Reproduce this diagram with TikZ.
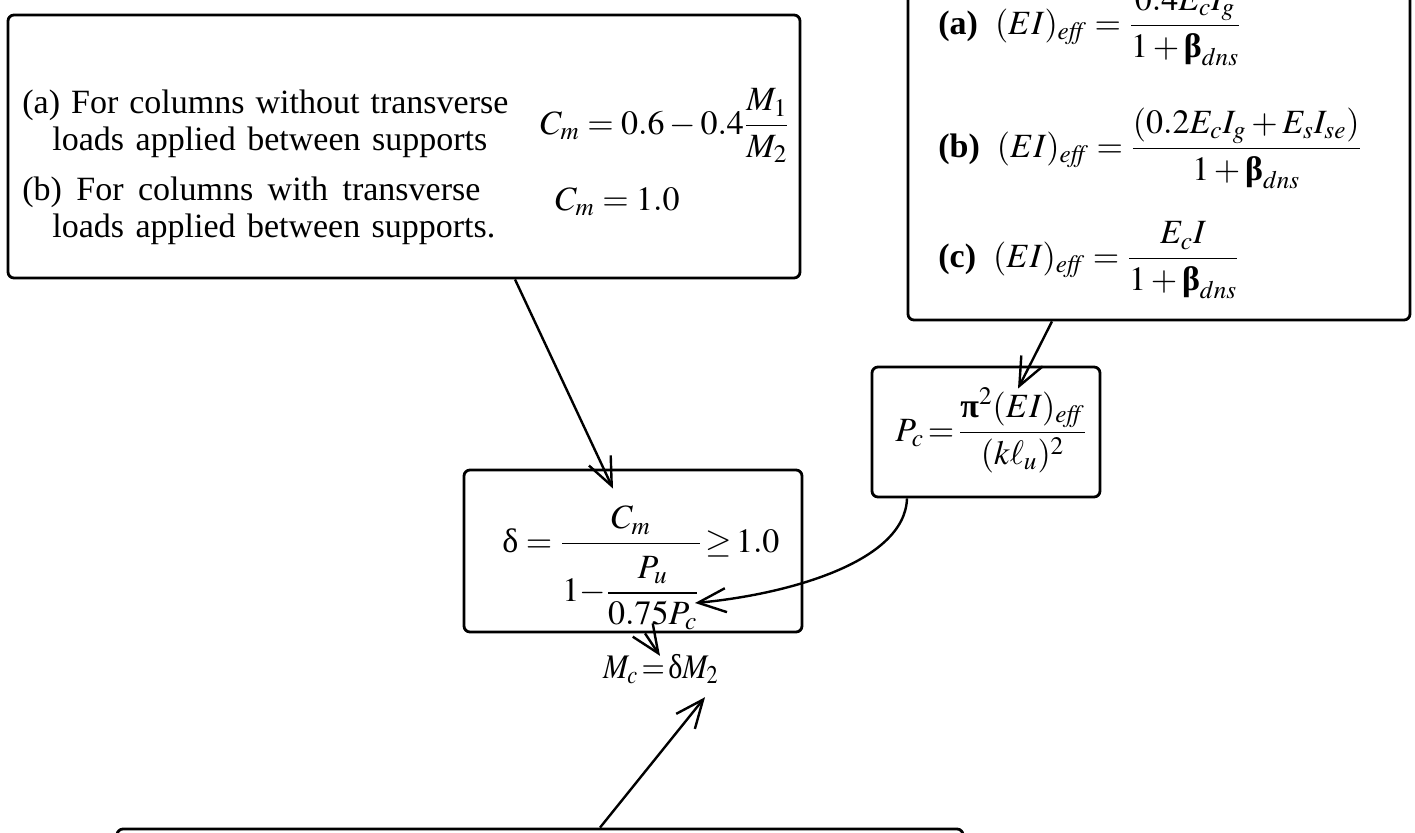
\documentclass[tikz,border=0pt]{standalone}
\usepackage{mathptmx}
\usepackage{amsmath}
\usepackage{fontspec}
\setmainfont{Liberation Serif}
\usetikzlibrary{arrows.meta,calc}
\newcommand{\gbeta}{\text{\bfseries β}}
\newcommand{\gdelta}{\text{δ}}
\newcommand{\gpi}{\text{\bfseries π}}
\begin{document}
\begin{tikzpicture}[x=0.5pt,y=-0.5pt]
\tikzset{
  box/.style={draw, line width=1.4pt, rounded corners=3pt, inner sep=0pt},
  arr/.style={line width=1.2pt, -{Straight Barb[length=14pt,width=12pt,line width=1.2pt]}},
  txt/.style={font=\fontsize{17}{20}\selectfont, inner sep=0pt},
}
\useasboundingbox (0,0) rectangle (1415,832);
\clip (0,0) rectangle (1415,832);
\fill[white] (0,0) rectangle (1415,832);
% boxes
\node[box, minimum width=396pt, minimum height=131.5pt] (b1) at (404,146.5) {};
\node[box, minimum width=251pt, minimum height=190pt] (b2) at (1159,130) {};
\node[box, minimum width=114pt, minimum height=65pt] (b3) at (986,432) {};
\node[box, minimum width=169pt, minimum height=81pt] (b4) at (633,551) {};
\node[box, minimum width=423pt, minimum height=85.5pt] (b5) at (540,914.5) {};
% box 1 text
\node[txt, anchor=base west] (a1) at (22,113) {\makebox[243pt][s]{(a) For columns without transverse}};
\node[txt, anchor=base west] (a2) at (52,150) {\makebox[217.5pt][s]{loads applied between supports}};
\node[txt, anchor=base west] (a3) at (22,200) {\makebox[229pt][s]{(b) For columns with transverse}};
\node[txt, anchor=base west] (a4) at (52,237) {\makebox[221.5pt][s]{loads applied between supports.}};
\node[txt, anchor=base west] (f1) at (540,134) {$C_m = 0.6-0.4\dfrac{M_1}{M_2}$};
\node[txt, anchor=base west] (f2) at (555,210) {$C_m = 1.0$};
% box 2 text
\node[txt, anchor=base west] (e1) at (938,34) {\textbf{(a)}\enspace$(EI)_{\mathit{eff}} = \dfrac{0.4E_cI_g}{1+\gbeta_{dns}}$};
\node[txt, anchor=base west] (e2) at (938,157) {\textbf{(b)}\enspace$(EI)_{\mathit{eff}} = \dfrac{(0.2E_cI_g+E_sI_{se})}{1+\gbeta_{dns}}$};
\node[txt, anchor=base west] (e3) at (938,267) {\textbf{(c)}\enspace$(EI)_{\mathit{eff}} = \dfrac{E_cI}{1+\gbeta_{dns}}$};
% box 3 text
\node[txt, anchor=base west] (p) at (895,441) {$P_c\,{=}\,\dfrac{\gpi^2(EI)_{\mathit{eff}}}{(k\ell_u)^2}$};
% box 4 text
\node[txt, anchor=base west] (d) at (502,552) {$\gdelta = \dfrac{C_m}{\raisebox{-4pt}[\height][\depth]{$\displaystyle 1{-}\dfrac{P_u}{0.75P_c}$}}\,{\ge}\,1.0$};
% Mc
\node[txt, font=\fontsize{15}{18}\selectfont] (mc) at (661,669) {\scalebox{1}[1.15]{$M_c\,{=}\,\gdelta M_2$}};
% arrows
\draw[arr] ($(b1.south)+(111,0)$) -- ($(b4.north)+(-20,20)$);
\draw[arr] ($(b2.south)+(-107,0)$) -- ($(b3.north)+(32,23)$);
\draw[arr] ($(b3.south)+(-79,0)$) .. controls ($(b3.south)+(-81,65)$) and ($(b4.center)+(150,44)$) .. ($(b4.center)+(62,52)$);
\draw[arr] ($(b4.south)+(12,0)$) -- ($(mc.north)+(-1,2)$);
\draw[arr] ($(b5.north)+(60,0)$) -- ($(mc.south)+(44,13)$);
\end{tikzpicture}
\end{document}
